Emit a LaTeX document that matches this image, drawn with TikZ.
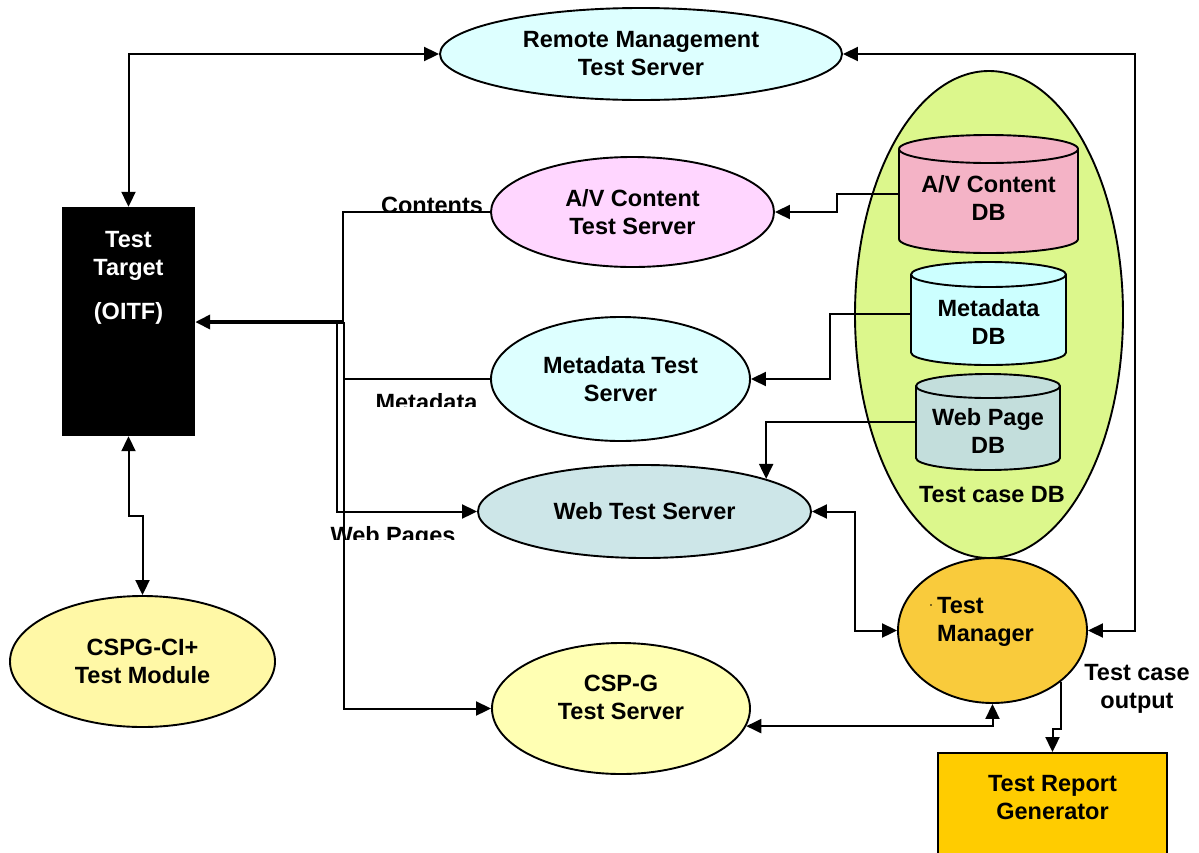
\documentclass[tikz,border=0pt]{standalone}
\usepackage{fontspec}
\setmainfont{Liberation Sans}
\usetikzlibrary{shapes.geometric,arrows.meta}

\definecolor{remotefill}{HTML}{DDFFFF}
\definecolor{avfill}{HTML}{FFD6FF}
\definecolor{avdbfill}{HTML}{F4B3C6}
\definecolor{mdfill}{HTML}{DDFFFF}
\definecolor{mddbfill}{HTML}{CCFFFF}
\definecolor{wpdbfill}{HTML}{C3DEDC}
\definecolor{webfill}{HTML}{CDE6E8}
\definecolor{tcdbfill}{HTML}{DCF78C}
\definecolor{tmfill}{HTML}{F9CB3C}
\definecolor{repfill}{HTML}{FFCC00}
\definecolor{cspgfill}{HTML}{FFFFB3}
\definecolor{cifill}{HTML}{FFF8A6}

\tikzset{
  lbl/.style={font=\bfseries\fontsize{23.5}{28}\selectfont, align=center, inner sep=0pt},
  srv/.style={ellipse, draw, line width=1.9pt, inner sep=0pt, lbl},
  wire/.style={line width=2pt},
  body/.style={inner sep=0pt, outer sep=0pt},
  >={Triangle[length=15pt,width=14pt]},
}

% database drum: body node name, half width, rim radius, fill colour
\newcommand\dbdrum[4]{%
  \draw[line width=1.9pt, fill=#4]
    ([yshift=-#3]#1.north west) -- ([yshift=#3]#1.south west)
    arc[start angle=180,end angle=360,x radius=#2,y radius=#3]
    -- ([yshift=-#3]#1.north east)
    arc[start angle=0,end angle=180,x radius=#2,y radius=#3] -- cycle;
  \draw[line width=1.9pt] ([yshift=-#3]#1.north west)
    arc[start angle=180,end angle=360,x radius=#2,y radius=#3];
}

\begin{document}
\begin{tikzpicture}[x=1pt,y=1pt]
\useasboundingbox[fill=white] (0,0) rectangle (1199,-852);

% test case database group
\node[ellipse, draw, line width=1.9pt, fill=tcdbfill, minimum width=268pt, minimum height=487pt, inner sep=0pt] (tcdb) at (989,-314.5) {};
\node[lbl] (tcdblabel) at (992,-495) {Test case DB};

% databases
\node[body, minimum width=179pt, minimum height=118pt] (avdb) at (988.5,-194) {};
\dbdrum{avdb}{89.5pt}{14pt}{avdbfill}
\node[lbl] (avdbtext) at (988.5,-198) {A/V Content\\DB};

\node[body, minimum width=155pt, minimum height=103pt] (mddb) at (988.5,-313.5) {};
\dbdrum{mddb}{77.5pt}{12.5pt}{mddbfill}
\node[lbl] (mddbtext) at (988.5,-322) {Metadata\\DB};

\node[body, minimum width=144pt, minimum height=96pt] (wpdb) at (988,-422) {};
\dbdrum{wpdb}{72pt}{12pt}{wpdbfill}
\node[lbl] (wpdbtext) at (988,-431) {Web Page\\DB};

% servers
\node[srv, fill=remotefill, minimum width=402pt, minimum height=92pt] (remote) at (641,-54) {Remote Management\\Test Server};
\node[srv, fill=avfill, minimum width=283pt, minimum height=110pt] (av) at (632.5,-212) {A/V Content\\Test Server};
\node[srv, fill=mdfill, minimum width=259pt, minimum height=124pt] (md) at (620.5,-379) {Metadata Test\\Server};
\node[srv, fill=webfill, minimum width=333pt, minimum height=93pt] (web) at (644.5,-511.5) {Web Test Server};
\node[srv, fill=cspgfill, minimum width=258pt, minimum height=131pt] (cspg) at (621,-708.5) {};
\node[lbl] (cspgtext) at (621,-697) {CSP-G\\Test Server};
\node[srv, fill=cifill, minimum width=265pt, minimum height=131pt] (ci) at (142.5,-661.5) {CSPG-CI+\\Test Module};

% test manager
\node[srv, fill=tmfill, minimum width=189pt, minimum height=145pt] (tm) at (992.5,-630.5) {};
\node[lbl, align=left] (tmtext) at (985.5,-622) {Test\\Manager};
\fill (931,-605) circle (0.9pt);

% report generator
\node[draw, line width=1.9pt, fill=repfill, minimum width=229pt, minimum height=117pt, inner sep=0pt] (report) at (1052.5,-811.5) {};
\node[lbl] (reporttext) at (1052.5,-797.5) {Test Report\\Generator};
\node[lbl] (tco) at (1137,-689) {Test case\\output};

% test target
\node[fill=black, minimum width=133pt, minimum height=229pt, inner sep=0pt] (target) at (128.5,-321.5) {};
\node[lbl, text=white] (targettext) at (128.5,-278) {Test\\Target\\[16pt](OITF)};

% stream labels
\begin{scope}
  \clip (360,-180) rectangle (500,-211);
  \node[lbl, anchor=base] (lcont) at (432,-213) {Contents};
\end{scope}
\begin{scope}
  \clip (360,-385) rectangle (490,-406);
  \node[lbl, anchor=base] (lmeta) at (426.5,-410) {Metadata};
\end{scope}
\begin{scope}
  \clip (320,-515) rectangle (470,-539);
  \node[lbl, anchor=base] (lweb) at (393,-543) {Web Pages};
\end{scope}

% distribution bus towards the test target
\coordinate (jA) at (343,-322);
\coordinate (jB) at (344,-322);
\coordinate (jC) at (337,-322);
\draw[wire] (av.west) -| (jA);
\draw[wire] (md.west) -| (jB);
\draw[wire,->] (jC) |- (web.west);
\draw[wire,->] (jB) |- (cspg.west);
\draw[line width=3.6pt,->] (jB) -- (target.east |- jB);

% management links
\draw[wire,<->] (target.north) |- (remote.west);
\coordinate (rr) at (1135,-630.5);
\draw[wire,<->] (remote.east) -| (rr) -- (tm.east);
\coordinate (wl) at (855,-630.5);
\draw[wire,<->] (web.east) -| (wl) -- (tm.west);
\draw[wire,<->] (cspg.-8) -| (tm.south);
\draw[wire,->] (tm.-37) -- ++(0,-47) -| (report.north);
\draw[wire,<->] (target.south) -- ++(0,-80) -| (ci.north);

% database feeds
\draw[wire,->] (avdb.west) -- ++(-62,0) |- (av.east);
\draw[wire,->] (mddb.west) -- ++(-81,0) |- (md.east);
\draw[wire,->] (wpdb.west) -| (web.15);
\end{tikzpicture}
\end{document}
